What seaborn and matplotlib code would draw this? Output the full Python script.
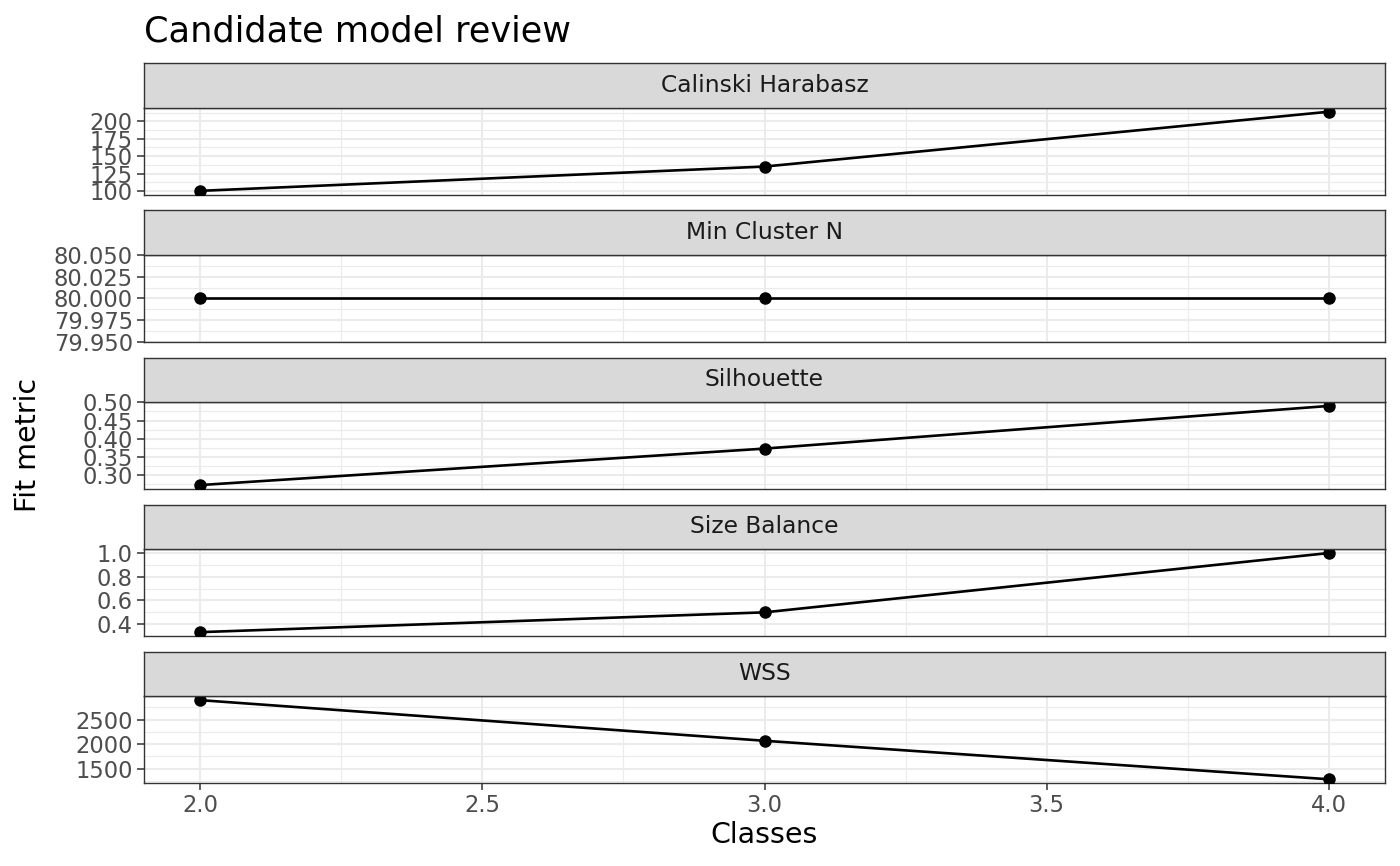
import matplotlib
matplotlib.use("Agg")
import matplotlib.pyplot as plt
import seaborn as sns
import pandas as pd
from matplotlib.ticker import AutoMinorLocator, FixedLocator, FormatStrFormatter

# values
classes = [2, 3, 4]
calinski = [100, 135, 214]
min_cluster_n = [80, 80, 80]
silhouette = [0.273, 0.373, 0.490]
size_balance = [0.333, 0.5, 1.0]
wss = [2900, 2068, 1280]

metrics = ["Calinski Harabasz", "Min Cluster N", "Silhouette", "Size Balance", "WSS"]

calinski_ticks = [100, 125, 150, 175, 200]
min_cluster_ticks = [79.95, 79.975, 80.0, 80.025, 80.05]
silhouette_ticks = [0.30, 0.35, 0.40, 0.45, 0.50]
size_balance_ticks = [0.4, 0.6, 0.8, 1.0]
wss_ticks = [1500, 2000, 2500]
x_ticks = [2.0, 2.5, 3.0, 3.5, 4.0]

series = [calinski, min_cluster_n, silhouette, size_balance, wss]
ticks = [calinski_ticks, min_cluster_ticks, silhouette_ticks, size_balance_ticks, wss_ticks]
fmts = ["%d", "%.3f", "%.2f", "%.1f", "%d"]

df = pd.DataFrame({
    "metric": [m for m, s in zip(metrics, series) for _ in s],
    "Classes": [c for s in series for c in classes],
    "value": [v for s in series for v in s],
})

sns.set_style("white")
plt.rcParams['font.family'] = ['DejaVu Sans']

W, H = 1400, 866
fig = plt.figure(figsize=(W / 100, H / 100), dpi=100)

left, right = 144, 1385
strip_h, panel_h, step = 44.5, 87.0, 147.1
top0 = 63.3

edge = "#333333"
grid_c = "#EBEBEB"

for i, m in enumerate(metrics):
    s_top = top0 + i * step
    p_top = s_top + strip_h
    p_bot = p_top + panel_h
    ax = fig.add_axes([left / W, 1 - p_bot / H, (right - left) / W, panel_h / H])
    sub = df[df.metric == m]
    sns.lineplot(data=sub, x="Classes", y="value", ax=ax, color="black",
                 linewidth=1.9, marker="o", markersize=9, markeredgewidth=0,
                 markerfacecolor="black", zorder=3)
    vals = sub["value"]
    lo, hi = vals.min(), vals.max()
    if hi - lo == 0:
        lo, hi = lo - 0.05, hi + 0.05
    else:
        pad = 0.05 * (hi - lo)
        lo, hi = lo - pad, hi + pad
    ax.set_ylim(lo, hi)
    ax.set_xlim(1.9, 4.1)
    ax.yaxis.set_major_locator(FixedLocator(ticks[i]))
    ax.yaxis.set_major_formatter(FormatStrFormatter(fmts[i]))
    ax.xaxis.set_major_locator(FixedLocator(x_ticks))
    ax.xaxis.set_major_formatter(FormatStrFormatter("%.1f"))
    ax.yaxis.set_minor_locator(AutoMinorLocator(2))
    ax.xaxis.set_minor_locator(AutoMinorLocator(2))
    ax.grid(True, which="major", color=grid_c, linewidth=1.5, zorder=0)
    ax.grid(True, which="minor", color=grid_c, linewidth=0.8, zorder=0)
    ax.set_axisbelow(True)
    for sp in ax.spines.values():
        sp.set_color(edge)
        sp.set_linewidth(1.0)
    ax.tick_params(axis="y", which="major", length=5, width=1.1, color=edge,
                   labelsize=16.3, labelcolor="#4D4D4D", pad=3, left=True)
    ax.tick_params(which="minor", length=0)
    ax.set_ylabel("")
    ax.set_xlabel("")
    if i == len(metrics) - 1:
        ax.tick_params(axis="x", which="major", length=5, width=1.1, color=edge,
                       labelsize=16.3, labelcolor="#4D4D4D", pad=3, bottom=True)
    else:
        ax.tick_params(axis="x", which="both", bottom=False, labelbottom=False)

    sax = fig.add_axes([left / W, 1 - p_top / H, (right - left) / W, strip_h / H])
    sax.set_facecolor("#D9D9D9")
    sax.set_xticks([])
    sax.set_yticks([])
    for sp in sax.spines.values():
        sp.set_color(edge)
        sp.set_linewidth(1.0)
    sax.text(0.5, 0.5, m, ha="center", va="center", fontsize=16.8,
             color="#1A1A1A", transform=sax.transAxes)

fig.text(left / W, 1 - 41 / H, "Candidate model review", fontsize=25.3,
         ha="left", va="baseline", color="black")
fig.text(28 / W, 1 - 445 / H, "Fit metric", fontsize=20.5, rotation=90,
         ha="center", va="center", color="black")
fig.text(764.5 / W, 1 - 835 / H, "Classes", fontsize=20.5,
         ha="center", va="center", color="black")

fig.savefig("out.png", dpi=100, facecolor="white")
